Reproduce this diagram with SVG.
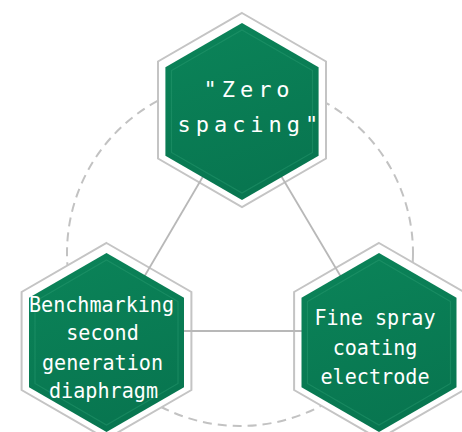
<svg xmlns="http://www.w3.org/2000/svg" width="462" height="432" viewBox="0 0 462 432">
  <style>
    .ring { fill: #ffffff; stroke: #c4c4c4; stroke-width: 2; }
    .hex { fill: url(#g); }
    .bevel { fill: none; stroke: #2fa176; stroke-width: 1.2; opacity: 0.4; }
    .conn { stroke: #b8b8b8; stroke-width: 1.8; fill: none; }
    .dash { stroke: #c2c2c2; stroke-width: 2; fill: none; stroke-dasharray: 9 6; }
    .t { font-family: "DejaVu Sans Mono", "Liberation Mono", monospace; fill: #ffffff; }
    .b { font-size: 22px; text-anchor: middle; }
    .top { font-size: 22px; letter-spacing: 5px; }
  </style>
  <defs>
    <linearGradient id="g" x1="0" y1="0" x2="0.3" y2="1">
      <stop offset="0" stop-color="#0b8459"/>
      <stop offset="1" stop-color="#087650"/>
    </linearGradient>
  </defs>
  <rect width="462" height="432" fill="#ffffff"/>
  <circle class="dash" cx="240" cy="253" r="173"/>
  <g id="rings">
    <polygon class="ring" points="242,13 326,61.5 326,158.5 242,207 158,158.5 158,61.5"/>
    <polygon class="ring" points="106.5,243 191.4,292 191.4,390 106.5,439 21.6,390 21.6,292"/>
    <polygon class="ring" points="379,243 463.9,292 463.9,390 379,439 294.1,390 294.1,292"/>
  </g>
  <g id="connectors">
    <line class="conn" x1="242" y1="110" x2="106.5" y2="341"/>
    <line class="conn" x1="242" y1="110" x2="379" y2="341"/>
    <line class="conn" x1="106.5" y1="331" x2="379" y2="331"/>
  </g>
  <g id="node-zero-spacing">
    <polygon class="hex" points="242,23 318.6,67.25 318.6,155.75 242,200 165.4,155.75 165.4,67.25"/>
    <polygon class="bevel" points="242,30 312.5,70.5 312.5,152.5 242,193 171.5,152.5 171.5,70.5"/>
    <text class="t top" x="203.4" y="97">"Zero</text>
    <text class="t top" x="177.4" y="131.5">spacing"</text>
  </g>
  <g id="node-diaphragm">
    <polygon class="hex" points="106.5,253 184,297.75 184,387.25 106.5,432 29,387.25 29,297.75"/>
    <polygon class="bevel" points="106.5,260 178,301.5 178,383.5 106.5,425 35,383.5 35,301.5"/>
    <text class="t b" x="101.5" y="311.5" textLength="145" lengthAdjust="spacingAndGlyphs">Benchmarking</text>
    <text class="t b" x="102.5" y="340" textLength="72.5" lengthAdjust="spacingAndGlyphs">second</text>
    <text class="t b" x="102.5" y="369.5" textLength="121" lengthAdjust="spacingAndGlyphs">generation</text>
    <text class="t b" x="103.5" y="398" textLength="109" lengthAdjust="spacingAndGlyphs">diaphragm</text>
  </g>
  <g id="node-electrode">
    <polygon class="hex" points="379,253 456.5,297.75 456.5,387.25 379,432 301.5,387.25 301.5,297.75"/>
    <polygon class="bevel" points="379,260 450.5,301.5 450.5,383.5 379,425 307.5,383.5 307.5,301.5"/>
    <text class="t b" x="375" y="325" textLength="121" lengthAdjust="spacingAndGlyphs">Fine spray</text>
    <text class="t b" x="375" y="355" textLength="84.7" lengthAdjust="spacingAndGlyphs">coating</text>
    <text class="t b" x="375" y="383.5" textLength="109" lengthAdjust="spacingAndGlyphs">electrode</text>
  </g>
</svg>
